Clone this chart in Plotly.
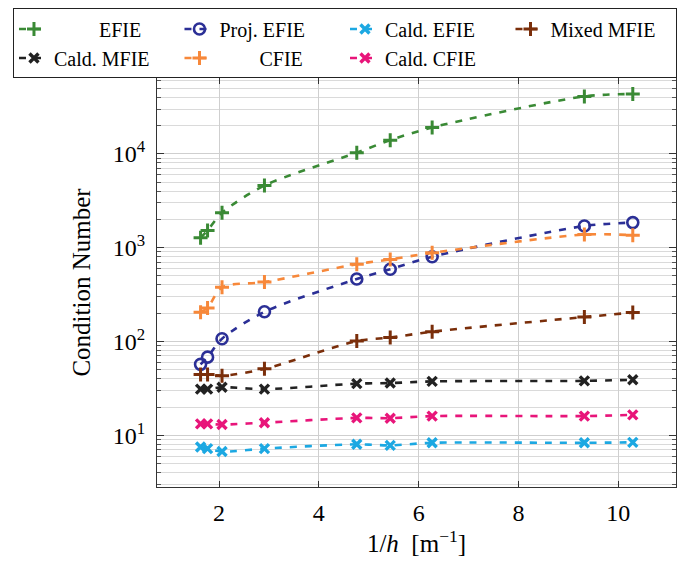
import plotly.graph_objects as go

# ---- data ----
inv_h = [1.63, 1.77, 2.06, 2.91, 4.76, 5.43, 6.27, 9.32, 10.29]
efie = [1274, 1528, 2355, 4600, 10300, 14000, 19150, 41000, 43500]
proj_efie = [57, 68, 107, 207, 463, 589, 800, 1702, 1849]
cald_efie = [7.5, 7.2, 6.7, 7.2, 8.0, 7.8, 8.3, 8.3, 8.4]
mixed_mfie = [44.5, 44.5, 43, 51, 101, 110, 127, 182, 203]
cald_mfie = [31, 31, 32.5, 31, 35.5, 36, 37.5, 38, 39]
cfie = [205, 228, 378, 430, 667, 750, 880, 1380, 1360]
cald_cfie = [13.2, 13.2, 13.0, 13.6, 15.3, 15.2, 16.0, 16.0, 16.5]

series_names = ["EFIE", "Proj. EFIE", "Cald. EFIE", "Mixed MFIE",
                "Cald. MFIE", "CFIE", "Cald. CFIE"]
x_tickvals = [2, 4, 6, 8, 10]
x_ticktext = ["2", "4", "6", "8", "10"]
y_tickvals = [10, 100, 1000, 10000]
y_ticktext = ["10<sup>1</sup>", "10<sup>2</sup>", "10<sup>3</sup>", "10<sup>4</sup>"]

NB = "\u00a0"
pads = [9, 0, 0, 0, 0, 8, 0]
colors = ["#3a8a35", "#2b2f96", "#1ca8e2", "#7a2e0a", "#222222", "#f7883a", "#e8157a"]
symbols = ["cross-thin", "circle-open", "x-thin", "cross-thin", "x-thin", "cross-thin", "x-thin"]
values = [efie, proj_efie, cald_efie, mixed_mfie, cald_mfie, cfie, cald_cfie]

FONT = "Liberation Serif"
fig = go.Figure()
for name, pad, ys, col, sym in zip(series_names, pads, values, colors, symbols):
    if sym == "circle-open":
        mk = dict(symbol=sym, size=11, color=col, line=dict(color=col, width=2.6))
    elif sym == "cross-thin":
        mk = dict(symbol=sym, size=10, color=col, line=dict(color=col, width=3.0))
    else:
        mk = dict(symbol=sym, size=9, color=col, line=dict(color=col, width=3.4))
    fig.add_trace(go.Scatter(
        x=inv_h, y=ys, name=NB * pad + name, mode="lines+markers",
        line=dict(color=col, width=2.6, dash="7px,8px", shape="spline", smoothing=0.8),
        marker=mk,
    ))

minor_y = [m * 10 ** e for e in range(0, 5) for m in range(2, 10)]

fig.update_layout(
    width=680, height=566,
    margin=dict(l=157, r=4, t=78, b=78.5, autoexpand=False),
    paper_bgcolor="white", plot_bgcolor="white",
    font=dict(family=FONT, size=21, color="black"),
    showlegend=True,
    legend=dict(
        orientation="h", x=-0.2775, xanchor="left", y=1.17, yanchor="top",
        bgcolor="white", bordercolor="#222222", borderwidth=1,
        font=dict(family=FONT, size=20, color="black"),
        entrywidth=120.5, entrywidthmode="pixels",
        itemwidth=30, traceorder="normal",
    ),
    xaxis=dict(
        range=[0.757, 11.156], tickmode="array", tickvals=x_tickvals, ticktext=x_ticktext,
        showgrid=True, gridcolor="#cfcfcf", gridwidth=1,
        ticks="inside", ticklen=6, tickcolor="#333333", mirror="ticks",
        showline=True, linecolor="#333333", linewidth=1.3,
        zeroline=False, ticklabelstandoff=4,
        title=dict(text="1/<i>h</i>  [m<sup>\u22121</sup>]", font=dict(size=25), standoff=8),
        tickfont=dict(size=24),
    ),
    yaxis=dict(
        type="log", range=[0.448, 4.809],
        tickmode="array", tickvals=y_tickvals, ticktext=y_ticktext,
        showgrid=True, gridcolor="#cfcfcf", gridwidth=1,
        ticks="inside", ticklen=7, tickcolor="#333333", mirror="ticks",
        showline=True, linecolor="#333333", linewidth=1.3,
        zeroline=False, ticklabelstandoff=6,
        minor=dict(tickmode="array", tickvals=minor_y, ticks="inside", ticklen=4,
                   tickcolor="#555555", showgrid=True, gridcolor="#dadada", gridwidth=1),
        title=dict(text="Condition Number", font=dict(size=25), standoff=14),
        tickfont=dict(size=24),
    ),
)

fig.write_html("out.html", config={"displayModeBar": False},
               post_script="document.body.style.margin='0';")
